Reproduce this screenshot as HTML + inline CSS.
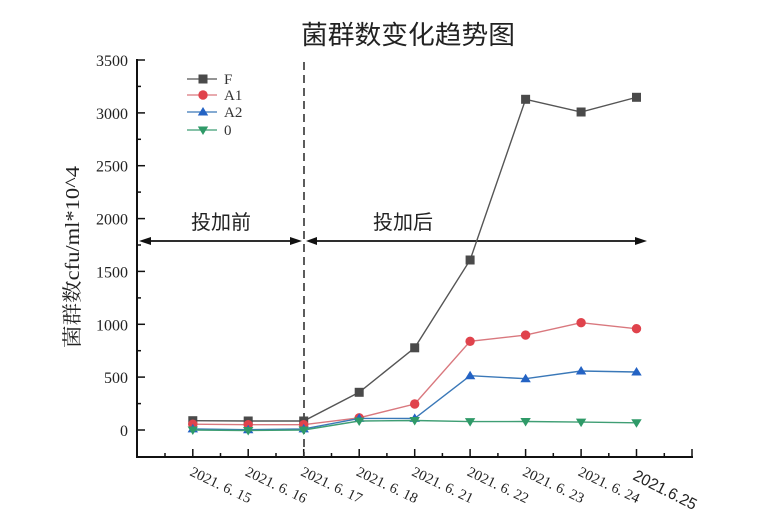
<!DOCTYPE html>
<html>
<head>
<meta charset="utf-8">
<style>
  html,body{margin:0;padding:0;background:#fff;}
  svg{display:block;}
</style>
</head>
<body>
<svg width="766" height="514" viewBox="0 0 766 514" xmlns="http://www.w3.org/2000/svg">
  <rect width="766" height="514" fill="#fff"/>

  <!-- Title -->
  <text x="301" y="44" font-family="'Noto Sans CJK SC', 'WenQuanYi Zen Hei', sans-serif" font-size="26" fill="#222" textLength="214" lengthAdjust="spacingAndGlyphs">菌群数变化趋势图</text>

  <!-- Y axis label -->
  <text transform="translate(79,257) rotate(-90)" text-anchor="middle" font-family="'Liberation Serif', 'Noto Serif CJK SC', serif" font-size="20" fill="#222" textLength="182" lengthAdjust="spacingAndGlyphs">菌群数cfu/ml*10^4</text>

  <!-- Axes -->
  <line x1="137" y1="59" x2="137" y2="458" stroke="#111" stroke-width="2"/>
  <line x1="136" y1="457" x2="693" y2="457" stroke="#111" stroke-width="2"/>

  <!-- Y ticks -->
  <g stroke="#111" stroke-width="1.5">
    <line x1="137" y1="60" x2="145" y2="60"/>
    <line x1="137" y1="86.4" x2="141" y2="86.4"/>
    <line x1="137" y1="112.9" x2="145" y2="112.9"/>
    <line x1="137" y1="139.3" x2="141" y2="139.3"/>
    <line x1="137" y1="165.7" x2="145" y2="165.7"/>
    <line x1="137" y1="192.1" x2="141" y2="192.1"/>
    <line x1="137" y1="218.6" x2="145" y2="218.6"/>
    <line x1="137" y1="245" x2="141" y2="245"/>
    <line x1="137" y1="271.4" x2="145" y2="271.4"/>
    <line x1="137" y1="297.9" x2="141" y2="297.9"/>
    <line x1="137" y1="324.3" x2="145" y2="324.3"/>
    <line x1="137" y1="350.7" x2="141" y2="350.7"/>
    <line x1="137" y1="377.1" x2="145" y2="377.1"/>
    <line x1="137" y1="403.6" x2="141" y2="403.6"/>
    <line x1="137" y1="430" x2="145" y2="430"/>
  </g>

  <!-- Y tick labels -->
  <g font-family="'Liberation Serif', serif" font-size="16" fill="#222" text-anchor="end">
    <text x="128" y="66">3500</text>
    <text x="128" y="118.9">3000</text>
    <text x="128" y="171.7">2500</text>
    <text x="128" y="224.6">2000</text>
    <text x="128" y="277.4">1500</text>
    <text x="128" y="330.3">1000</text>
    <text x="128" y="383.1">500</text>
    <text x="128" y="436">0</text>
  </g>

  <!-- X ticks -->
  <g stroke="#111" stroke-width="1.5">
    <line x1="192.8" y1="457" x2="192.8" y2="449"/>
    <line x1="248.2" y1="457" x2="248.2" y2="449"/>
    <line x1="303.7" y1="457" x2="303.7" y2="449"/>
    <line x1="359.2" y1="457" x2="359.2" y2="449"/>
    <line x1="414.7" y1="457" x2="414.7" y2="449"/>
    <line x1="470.1" y1="457" x2="470.1" y2="449"/>
    <line x1="525.6" y1="457" x2="525.6" y2="449"/>
    <line x1="581.1" y1="457" x2="581.1" y2="449"/>
    <line x1="636.5" y1="457" x2="636.5" y2="449"/>
    <line x1="692" y1="457" x2="692" y2="449"/>
    <line x1="165" y1="457" x2="165" y2="453"/>
    <line x1="220.5" y1="457" x2="220.5" y2="453"/>
    <line x1="276" y1="457" x2="276" y2="453"/>
    <line x1="331.5" y1="457" x2="331.5" y2="453"/>
    <line x1="386.9" y1="457" x2="386.9" y2="453"/>
    <line x1="442.4" y1="457" x2="442.4" y2="453"/>
    <line x1="497.9" y1="457" x2="497.9" y2="453"/>
    <line x1="553.3" y1="457" x2="553.3" y2="453"/>
    <line x1="608.8" y1="457" x2="608.8" y2="453"/>
    <line x1="664.3" y1="457" x2="664.3" y2="453"/>
  </g>

  <!-- X tick labels -->
  <g font-family="'Liberation Serif', serif" font-size="14.5" fill="#222">
    <text transform="translate(189,475) rotate(25.5)" textLength="66" lengthAdjust="spacingAndGlyphs">2021. 6. 15</text>
    <text transform="translate(244.4,475) rotate(25.5)" textLength="66" lengthAdjust="spacingAndGlyphs">2021. 6. 16</text>
    <text transform="translate(299.9,475) rotate(25.5)" textLength="66" lengthAdjust="spacingAndGlyphs">2021. 6. 17</text>
    <text transform="translate(355.4,475) rotate(25.5)" textLength="66" lengthAdjust="spacingAndGlyphs">2021. 6. 18</text>
    <text transform="translate(410.9,475) rotate(25.5)" textLength="66" lengthAdjust="spacingAndGlyphs">2021. 6. 21</text>
    <text transform="translate(466.3,475) rotate(25.5)" textLength="66" lengthAdjust="spacingAndGlyphs">2021. 6. 22</text>
    <text transform="translate(521.8,475) rotate(25.5)" textLength="66" lengthAdjust="spacingAndGlyphs">2021. 6. 23</text>
    <text transform="translate(577.3,475) rotate(25.5)" textLength="66" lengthAdjust="spacingAndGlyphs">2021. 6. 24</text>
  </g>
  <text transform="translate(632,479) rotate(27)" font-family="'Liberation Sans', sans-serif" font-size="16" fill="#222" textLength="69" lengthAdjust="spacingAndGlyphs">2021.6.25</text>

  <!-- Dashed vertical line -->
  <line x1="304" y1="62" x2="304" y2="457" stroke="#333" stroke-width="1.6" stroke-dasharray="8 5"/>

  <!-- Arrows -->
  <line x1="145" y1="241" x2="296" y2="241" stroke="#111" stroke-width="1.8"/>
  <polygon points="139,241 151,237 151,245" fill="#111"/>
  <polygon points="302,241 290,237 290,245" fill="#111"/>
  <line x1="312" y1="241" x2="640" y2="241" stroke="#111" stroke-width="1.8"/>
  <polygon points="306,241 317,237 317,245" fill="#111"/>
  <polygon points="647,241 635,237 635,245" fill="#111"/>

  <g font-family="'Noto Sans CJK SC', 'WenQuanYi Zen Hei', sans-serif" font-size="20" fill="#222">
    <text x="191" y="229">投加前</text>
    <text x="373" y="229">投加后</text>
  </g>

  <!-- Series F -->
  <polyline fill="none" stroke="#555" stroke-width="1.4" points="192.8,420.7 248.2,421 303.7,421 359.2,392.3 414.7,347.8 470.1,260 525.6,99.3 581.1,112 636.5,97.3"/>
  <g fill="#4a4a4a">
    <rect x="188.3" y="416.2" width="9" height="9"/>
    <rect x="243.7" y="416.5" width="9" height="9"/>
    <rect x="299.2" y="416.5" width="9" height="9"/>
    <rect x="354.7" y="387.8" width="9" height="9"/>
    <rect x="410.2" y="343.3" width="9" height="9"/>
    <rect x="465.6" y="255.5" width="9" height="9"/>
    <rect x="521.1" y="94.8" width="9" height="9"/>
    <rect x="576.6" y="107.5" width="9" height="9"/>
    <rect x="632" y="92.8" width="9" height="9"/>
  </g>

  <!-- Series A1 -->
  <polyline fill="none" stroke="#d9787e" stroke-width="1.4" points="192.8,424.2 248.2,424.7 303.7,424.7 359.2,417.8 414.7,404 470.1,341.3 525.6,335.1 581.1,322.7 636.5,328.7"/>
  <g fill="#e0434c">
    <circle cx="192.8" cy="424.2" r="4.7"/>
    <circle cx="248.2" cy="424.7" r="4.7"/>
    <circle cx="303.7" cy="424.7" r="4.7"/>
    <circle cx="359.2" cy="417.8" r="4.7"/>
    <circle cx="414.7" cy="404" r="4.7"/>
    <circle cx="470.1" cy="341.3" r="4.7"/>
    <circle cx="525.6" cy="335.1" r="4.7"/>
    <circle cx="581.1" cy="322.7" r="4.7"/>
    <circle cx="636.5" cy="328.7" r="4.7"/>
  </g>

  <!-- Series A2 -->
  <polyline fill="none" stroke="#3a78b8" stroke-width="1.4" points="192.8,428.9 248.2,429.7 303.7,428.9 359.2,418.4 414.7,418.4 470.1,375.7 525.6,378.7 581.1,371 636.5,372"/>
  <g fill="#2463c4">
    <polygon points="192.8,423.9 198,432.4 187.6,432.4"/>
    <polygon points="248.2,424.7 253.4,433.2 243,433.2"/>
    <polygon points="303.7,423.9 308.9,432.4 298.5,432.4"/>
    <polygon points="359.2,413.4 364.4,421.9 354,421.9"/>
    <polygon points="414.7,413.4 419.9,421.9 409.5,421.9"/>
    <polygon points="470.1,370.7 475.3,379.2 464.9,379.2"/>
    <polygon points="525.6,373.7 530.8,382.2 520.4,382.2"/>
    <polygon points="581.1,366 586.3,374.5 575.9,374.5"/>
    <polygon points="636.5,367 641.7,375.5 631.3,375.5"/>
  </g>

  <!-- Series 0 -->
  <polyline fill="none" stroke="#3f9e74" stroke-width="1.4" points="192.8,430 248.2,430.5 303.7,430 359.2,421 414.7,420.5 470.1,421.6 525.6,421.5 581.1,422.1 636.5,422.8"/>
  <g fill="#2f9a68">
    <polygon points="187.6,426.5 198,426.5 192.8,435"/>
    <polygon points="243,427 253.4,427 248.2,435.5"/>
    <polygon points="298.5,426.5 308.9,426.5 303.7,435"/>
    <polygon points="354,417.5 364.4,417.5 359.2,426"/>
    <polygon points="409.5,417 419.9,417 414.7,425.5"/>
    <polygon points="464.9,418.1 475.3,418.1 470.1,426.6"/>
    <polygon points="520.4,418 530.8,418 525.6,426.5"/>
    <polygon points="575.9,418.6 586.3,418.6 581.1,427.1"/>
    <polygon points="631.3,419.3 641.7,419.3 636.5,427.8"/>
  </g>

  <!-- Legend -->
  <line x1="187" y1="79" x2="217" y2="79" stroke="#555" stroke-width="1.3"/>
  <rect x="198.5" y="74.5" width="9" height="9" fill="#4a4a4a"/>
  <line x1="187" y1="95" x2="217" y2="95" stroke="#d9787e" stroke-width="1.3"/>
  <circle cx="203" cy="95" r="4.7" fill="#e0434c"/>
  <line x1="187" y1="112" x2="217" y2="112" stroke="#3a78b8" stroke-width="1.3"/>
  <polygon points="203,107 208.2,115.5 197.8,115.5" fill="#2463c4"/>
  <line x1="187" y1="130" x2="217" y2="130" stroke="#3f9e74" stroke-width="1.3"/>
  <polygon points="197.8,126.5 208.2,126.5 203,135" fill="#2f9a68"/>
  <g font-family="'Liberation Serif', serif" font-size="15" fill="#333">
    <text x="224" y="84">F</text>
    <text x="224" y="100">A1</text>
    <text x="224" y="117">A2</text>
    <text x="224" y="135">0</text>
  </g>
</svg>
</body>
</html>
